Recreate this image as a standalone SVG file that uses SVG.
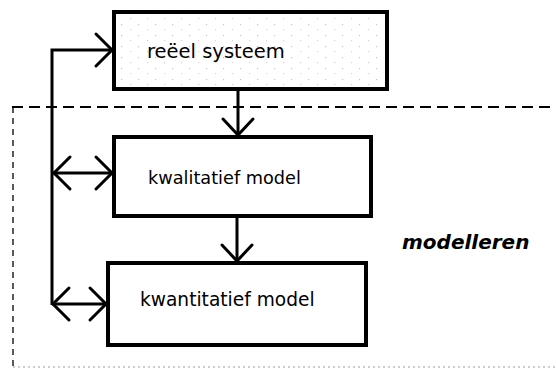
<svg xmlns="http://www.w3.org/2000/svg" width="556" height="369" viewBox="0 0 556 369">
<defs>
<pattern id="stip" width="17" height="11" patternUnits="userSpaceOnUse">
<rect x="2" y="2" width="1.2" height="1.2" fill="#c4c4c4"/>
<rect x="11" y="7" width="1.2" height="1.2" fill="#d4d4d4"/>
</pattern>
<style>
.box{fill:#fff;stroke:#000;stroke-width:4}
.lbl{font-family:"DejaVu Sans","Liberation Sans",sans-serif;font-size:18px;fill:#000}
.ln{fill:none;stroke:#000;stroke-width:3;stroke-linejoin:miter;stroke-linecap:butt}
.hd{fill:none;stroke:#000;stroke-width:3;stroke-linejoin:miter;stroke-linecap:round}
</style>
</defs>
<g id="modelleren-region">
<path d="M12,107 H556" fill="none" stroke="#000" stroke-width="2" stroke-dasharray="11,6"/>
<path d="M13,107 V369" fill="none" stroke="#000" stroke-width="1.3" stroke-dasharray="6,5"/>
<path d="M13,367 H556" fill="none" stroke="#999" stroke-width="1" stroke-dasharray="2,3"/>
<text x="402" y="249" font-family="'DejaVu Sans','Liberation Sans',sans-serif" font-size="20" font-style="italic" font-weight="bold">modelleren</text>
</g>
<g id="reeel-systeem">
<rect class="box" x="114" y="12" width="273" height="77" style="fill:url(#stip)"/>
<text class="lbl" x="147" y="58" style="font-size:19.5px">reëel systeem</text>
</g>
<g id="kwalitatief-model">
<rect class="box" x="114" y="137" width="257" height="79"/>
<text class="lbl" x="148" y="184" style="font-size:17.7px">kwalitatief model</text>
</g>
<g id="kwantitatief-model">
<rect class="box" x="108" y="263" width="258" height="82"/>
<text class="lbl" x="140" y="306" style="font-size:18.6px">kwantitatief model</text>
</g>
<g id="connectors">
<path class="ln" d="M52,305 V50 H112"/>
<path class="hd" d="M96,34 L112,50 L96,66"/>
<path class="ln" d="M238,89 V135"/>
<path class="hd" d="M223,119 L238,135 L253,119"/>
<path class="ln" d="M237,216 V261"/>
<path class="hd" d="M222,245 L237,261 L252,245"/>
<path class="ln" d="M52,173 H112"/>
<path class="hd" d="M70,157 L54,173 L70,189"/>
<path class="hd" d="M96,157 L112,173 L96,189"/>
<path class="ln" d="M52,304 H106"/>
<path class="hd" d="M69,288 L53,304 L69,320"/>
<path class="hd" d="M90,288 L106,304 L90,320"/>
</g>
</svg>
